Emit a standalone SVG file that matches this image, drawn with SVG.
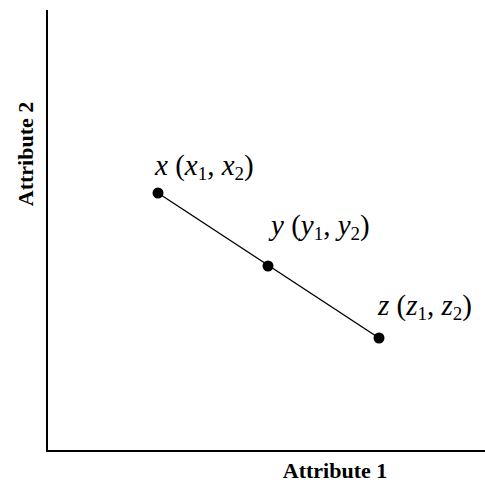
<svg xmlns="http://www.w3.org/2000/svg" width="485" height="484" viewBox="0 0 485 484">
<style>
.axis{stroke:#000;stroke-width:2;fill:none}
.lab{font-family:"Liberation Serif",serif;font-size:29px;fill:#000}
.it{font-style:italic}
.sub{font-size:19px}
.ax{font-family:"Liberation Serif",serif;font-size:22px;font-weight:bold;fill:#000}
.dot{fill:#000}
</style>
<rect width="485" height="484" fill="#fff"/>
<g id="axes">
<polyline class="axis" points="47,10 47,451 485,451"/>
<text class="ax" x="335" y="478" text-anchor="middle">Attribute 1</text>
<text class="ax" transform="translate(33,154) rotate(-90)" text-anchor="middle">Attribute 2</text>
</g>
<g id="connectors">
<line x1="158" y1="193" x2="379" y2="338" stroke="#000" stroke-width="1.4"/>
</g>
<g id="node-x">
<circle class="dot" cx="158" cy="193" r="5.5"/>
<text class="lab" x="155" y="175"><tspan class="it">x</tspan> (<tspan class="it">x</tspan><tspan class="sub" dy="5">1</tspan><tspan dy="-5">, </tspan><tspan class="it">x</tspan><tspan class="sub" dy="5">2</tspan><tspan dy="-5">)</tspan></text>
</g>
<g id="node-y">
<circle class="dot" cx="268" cy="266" r="5.5"/>
<text class="lab" x="271" y="235"><tspan class="it">y</tspan> (<tspan class="it">y</tspan><tspan class="sub" dy="5">1</tspan><tspan dy="-5">, </tspan><tspan class="it">y</tspan><tspan class="sub" dy="5">2</tspan><tspan dy="-5">)</tspan></text>
</g>
<g id="node-z">
<circle class="dot" cx="379" cy="338" r="5.5"/>
<text class="lab" x="378" y="315"><tspan class="it">z</tspan> (<tspan class="it">z</tspan><tspan class="sub" dy="5">1</tspan><tspan dy="-5">, </tspan><tspan class="it">z</tspan><tspan class="sub" dy="5">2</tspan><tspan dy="-5">)</tspan></text>
</g>
</svg>
